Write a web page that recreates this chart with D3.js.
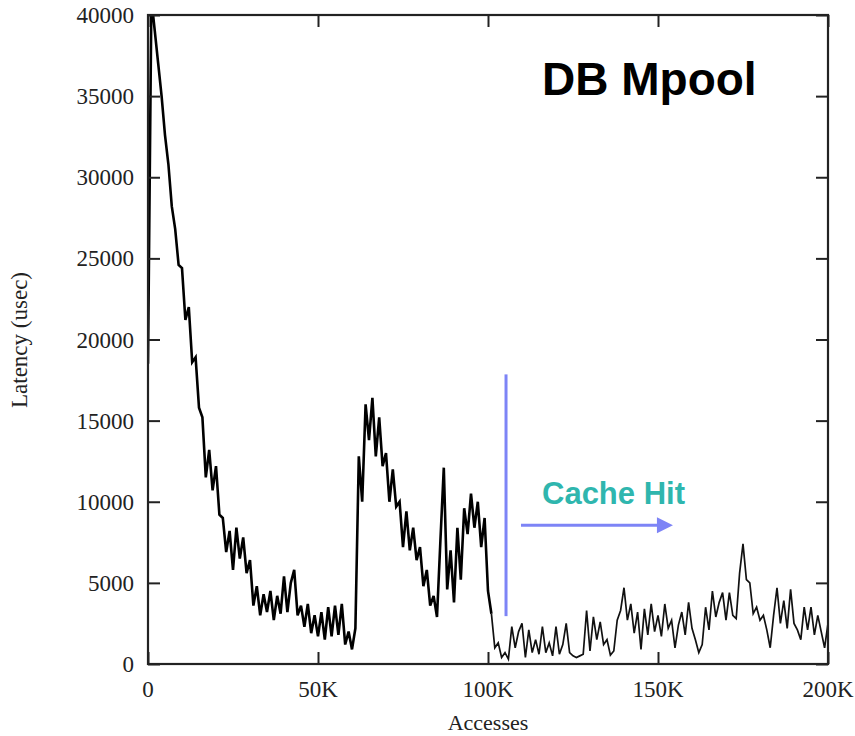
<!DOCTYPE html>
<html>
<head>
<meta charset="utf-8">
<script src="https://cdn.jsdelivr.net/npm/d3@7"></script>
<style>
  html, body { margin: 0; padding: 0; background: #fff; }
  svg { display: block; }
</style>
</head>
<body>
<svg id="chart" width="855" height="736"></svg>
<script>
// ---- data ----
// accesses in thousands, one sample per 1K accesses
const accessesK = d3.range(0, 201);
const latencyUsec = [
  18500, 41000, 39000, 37000, 35000, 32600, 30800, 28200, 26800, 24600,
  24400, 21200, 22000, 18600, 18900, 15800, 15200, 11500, 13200, 10700,
  12200, 9200, 9000, 6900, 8200, 5800, 8400, 6500, 7800, 5600,
  6400, 3600, 4800, 3000, 4300, 3200, 4500, 2700, 4200, 3100,
  5400, 3200, 5000, 5800, 3000, 3600, 2300, 3700, 1900, 3000,
  1700, 3200, 1500, 3500, 1700, 3600, 1800, 3700, 1200, 2000,
  900, 2200, 12800, 10000, 16000, 13800, 16400, 12800, 15200, 12200,
  13000, 10000, 12000, 9700, 10000, 7200, 9400, 7000, 8400, 6400,
  7200, 4800, 5800, 3600, 4200, 2900, 7600, 12100, 4600, 7000,
  3800, 8400, 5200, 9600, 8000, 10500, 8400, 10000, 7200, 9000,
  4500, 3100, 1000, 1300, 400, 700, 300, 2300, 1000, 2000,
  2500, 400, 2100, 700, 1500, 600, 2300, 700, 1300, 500,
  2300, 600, 1200, 2500, 700, 500, 400, 500, 600, 3300,
  800, 2900, 1500, 2600, 1200, 1500, 550, 800, 2700, 3300,
  4700, 2700, 3700, 1900, 3200, 900, 3400, 1800, 3700, 2000,
  3000, 1700, 3700, 2200, 2700, 1000, 2400, 3200, 1800, 3800,
  2200, 1500, 700, 1200, 3500, 2100, 4500, 2900, 3800, 4400,
  2700, 4400, 3000, 2800, 5600, 7400, 5200, 5000, 3100, 3500,
  2700, 3000, 2100, 1000, 3000, 4700, 2500, 3900, 2200, 4600,
  2500, 2100, 1500, 3500, 2100, 3500, 1800, 3000, 2000, 1000,
  2500
];
const yTicks = [0, 5000, 10000, 15000, 20000, 25000, 30000, 35000, 40000];
const xTicks = [0, 50, 100, 150, 200];
const xTickLabels = ["0", "50K", "100K", "150K", "200K"];
const title = "DB Mpool";
const xLabel = "Accesses";
const yLabel = "Latency (usec)";
const annotationText = "Cache Hit";
// annotation anchor points in data units (thousand accesses, usec)
const dividerK = 105.3, dividerFrom = 2950, dividerTo = 17850;
const arrowFromK = 109.7, arrowToK = 154.4, arrowLevel = 8550;
const missPhaseEndK = 101; // before this the trace is drawn heavier

// ---- layout ----
const svg = d3.select("#chart");
const L = 148, R = 828, T = 15, B = 664;
const x = d3.scaleLinear().domain([0, 200]).range([L, R]);
const y = d3.scaleLinear().domain([0, 40000]).range([B, T]);

const serif = "'Liberation Serif', 'DejaVu Serif', serif";
const sans = "'Liberation Sans', Arial, sans-serif";

svg.append("defs").append("clipPath").attr("id", "clip")
  .append("rect").attr("x", L).attr("y", T).attr("width", R - L).attr("height", B - T);

// data line (two segments: heavy miss phase, lighter hit phase)
const pts = accessesK.map((k, i) => [k, latencyUsec[i]]);
const line = d3.line().x(d => x(d[0])).y(d => y(d[1]));
svg.append("path")
  .datum(pts.filter(d => d[0] <= missPhaseEndK))
  .attr("clip-path", "url(#clip)")
  .attr("fill", "none")
  .attr("stroke", "#000")
  .attr("stroke-width", 2.6)
  .attr("stroke-linejoin", "miter")
  .attr("d", line);
svg.append("path")
  .datum(pts.filter(d => d[0] >= missPhaseEndK))
  .attr("clip-path", "url(#clip)")
  .attr("fill", "none")
  .attr("stroke", "#111")
  .attr("stroke-width", 1.7)
  .attr("stroke-linejoin", "miter")
  .attr("d", line);

// axes with inward ticks on all sides
const tickLen = 12;
const axisLeft = d3.axisRight(y).tickValues(yTicks).tickSize(tickLen).tickFormat("");
const axisRightG = d3.axisLeft(y).tickValues(yTicks).tickSize(tickLen).tickFormat("");
const axisBottom = d3.axisTop(x).tickValues(xTicks).tickSize(tickLen).tickFormat("");
const axisTop = d3.axisBottom(x).tickValues(xTicks).tickSize(tickLen).tickFormat("");

function styleAxis(g) {
  g.select(".domain").remove();
  g.selectAll(".tick line").attr("stroke", "#222").attr("stroke-width", 2);
}
svg.append("g").attr("transform", `translate(${L},0)`).call(axisLeft).call(styleAxis);
svg.append("g").attr("transform", `translate(${R},0)`).call(axisRightG).call(styleAxis);
svg.append("g").attr("transform", `translate(0,${B})`).call(axisBottom).call(styleAxis);
svg.append("g").attr("transform", `translate(0,${T})`).call(axisTop).call(styleAxis);

// frame
svg.append("rect")
  .attr("x", L).attr("y", T).attr("width", R - L).attr("height", B - T)
  .attr("fill", "none").attr("stroke", "#222").attr("stroke-width", 2.2);

// tick labels
svg.append("g").selectAll("text").data(yTicks).join("text")
  .attr("x", L - 14).attr("y", d => y(d)).attr("dy", "0.35em")
  .attr("text-anchor", "end")
  .attr("font-family", serif).attr("font-size", 23).attr("fill", "#222")
  .text(d => String(d));
svg.append("g").selectAll("text").data(xTicks).join("text")
  .attr("x", d => x(d)).attr("y", 697)
  .attr("text-anchor", "middle")
  .attr("font-family", serif).attr("font-size", 23).attr("fill", "#222")
  .text((d, i) => xTickLabels[i]);

// axis titles
svg.append("text")
  .attr("x", 488).attr("y", 730).attr("text-anchor", "middle")
  .attr("font-family", serif).attr("font-size", 22).attr("fill", "#222")
  .text(xLabel);
svg.append("text")
  .attr("transform", "translate(27,340) rotate(-90)")
  .attr("text-anchor", "middle")
  .attr("font-family", serif).attr("font-size", 23).attr("fill", "#222")
  .text(yLabel);

// title
svg.append("text")
  .attr("x", 542).attr("y", 95)
  .attr("font-family", sans).attr("font-weight", "bold").attr("font-size", 46)
  .attr("fill", "#000")
  .text(title);

// annotation
const annoColor = "#7d84f6";
svg.append("line")
  .attr("x1", x(dividerK)).attr("x2", x(dividerK))
  .attr("y1", y(dividerTo)).attr("y2", y(dividerFrom))
  .attr("stroke", annoColor).attr("stroke-width", 3);
const ay = y(arrowLevel), ax2 = x(arrowToK);
svg.append("line")
  .attr("x1", x(arrowFromK)).attr("x2", ax2 - 12)
  .attr("y1", ay).attr("y2", ay)
  .attr("stroke", annoColor).attr("stroke-width", 3);
svg.append("path")
  .attr("d", `M${ax2},${ay} L${ax2 - 16},${ay - 8} L${ax2 - 16},${ay + 8} Z`)
  .attr("fill", annoColor);
svg.append("text")
  .attr("x", 542).attr("y", 504)
  .attr("font-family", sans).attr("font-weight", "bold").attr("font-size", 31)
  .attr("fill", "#2fb6ae")
  .text(annotationText);
</script>
</body>
</html>
